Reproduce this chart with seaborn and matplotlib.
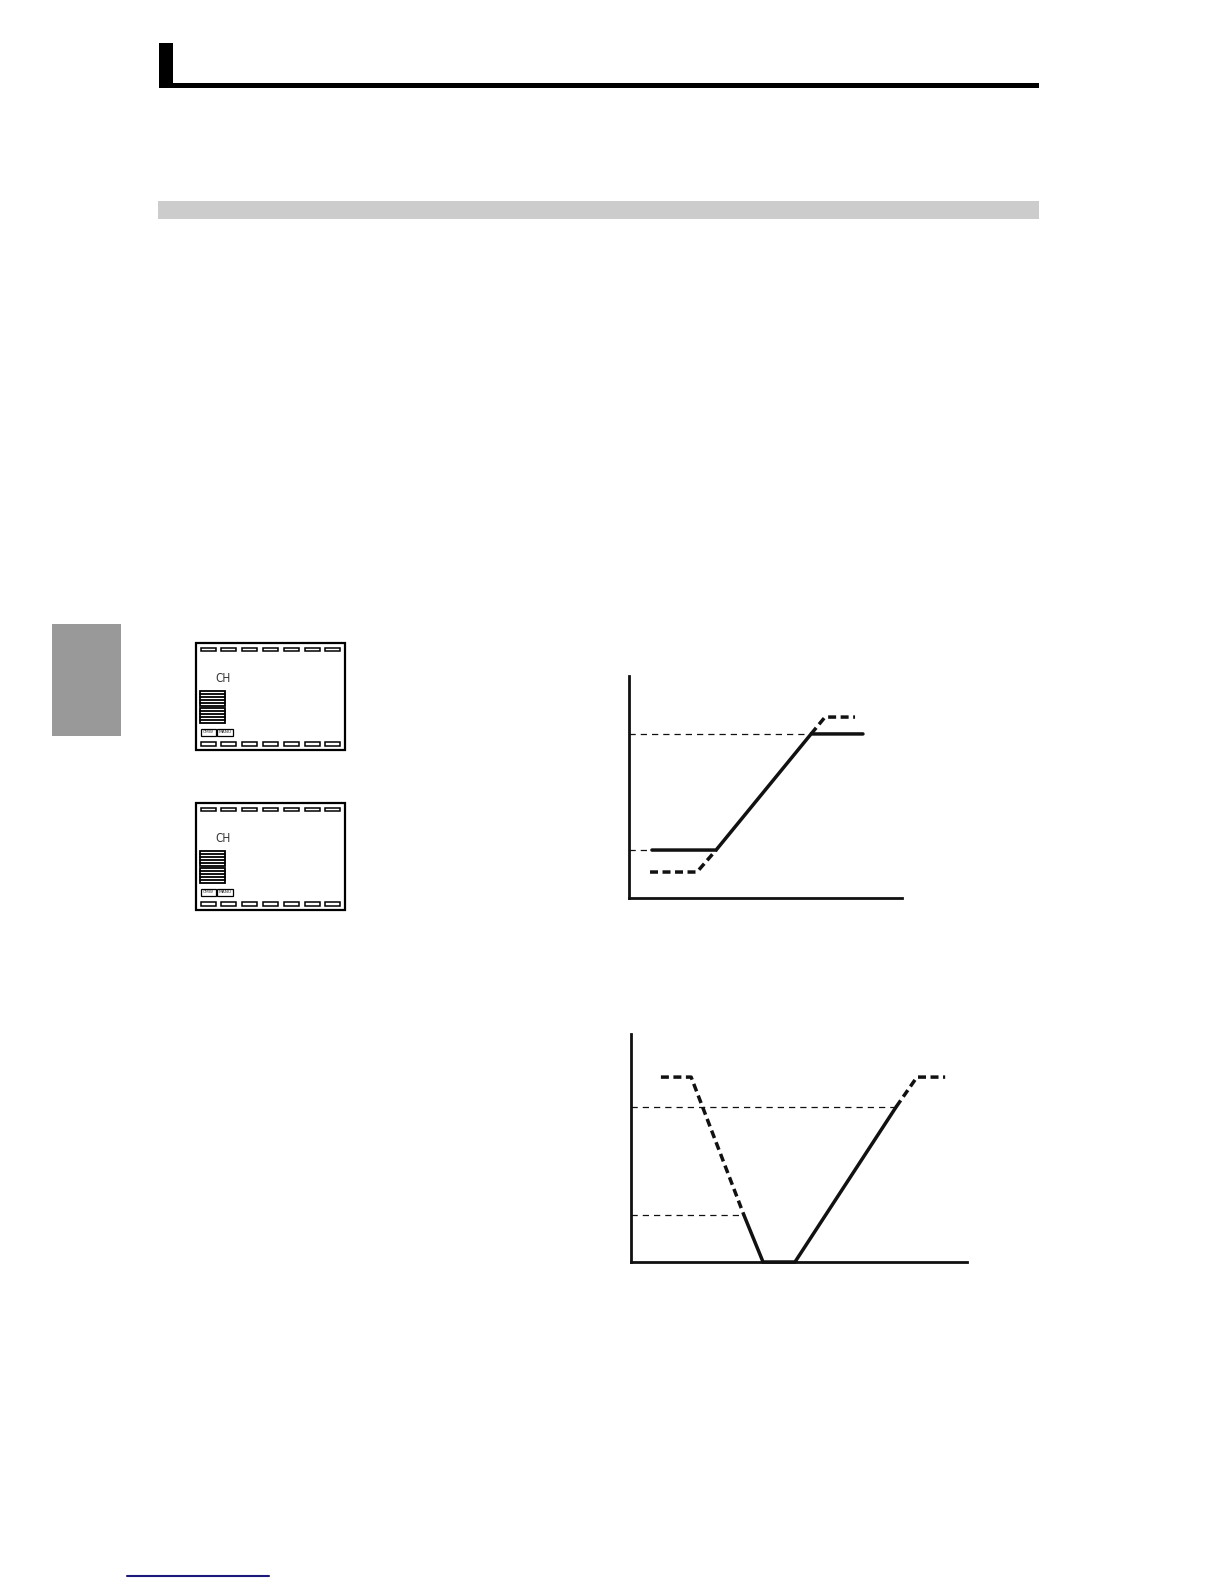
import numpy as np
import pandas as pd
import matplotlib
matplotlib.use("Agg")
import matplotlib.pyplot as plt
from matplotlib.patches import Rectangle
import seaborn as sns

sns.set_theme(style="white")
plt.rcParams['font.family'] = ['DejaVu Sans']

# ---------------- data (chart units 0..100) ----------------
# Chart 1: rising characteristic
c1_solid_x = [8.4, 31.9, 66.7, 85.7]
c1_solid_y = [21.6, 21.6, 73.9, 73.9]
c1_dash_low_x = [7.7, 24.9, 31.9]
c1_dash_low_y = [11.7, 11.7, 21.6]
c1_dash_high_x = [66.7, 71.8, 82.8]
c1_dash_high_y = [73.9, 81.5, 81.5]
c1_thresh_y = [21.6, 73.9]
c1_thresh_xend = [8.4, 66.7]

# Chart 2: V characteristic
c2_solid_x = [33.6, 39.3, 48.8, 78.9]
c2_solid_y = [20.6, 0.0, 0.0, 68.0]
c2_dash_left_x = [8.9, 17.9, 33.6]
c2_dash_left_y = [81.1, 81.1, 20.6]
c2_dash_right_x = [78.9, 85.1, 93.5]
c2_dash_right_y = [68.0, 81.1, 81.1]
c2_thresh_y = [68.0, 20.6]
c2_thresh_xend = [78.9, 33.6]

lcd_labels = ["CH", "CMW", "MANU"]

W, H = 1224, 1584
fig = plt.figure(figsize=(W / 100, H / 100), dpi=100)
fig.patch.set_facecolor("white")

# page overlay axes in pixel coordinates
page = fig.add_axes([0, 0, 1, 1], zorder=0)
page.set_xlim(0, W)
page.set_ylim(H, 0)
page.axis("off")

# header
page.add_patch(Rectangle((159, 43), 14, 45, color="black", lw=0))
page.add_patch(Rectangle((159, 83), 880, 5, color="black", lw=0))
# gray section bar
page.add_patch(Rectangle((158, 201), 881, 18, color="#cccccc", lw=0))
# left tab
page.add_patch(Rectangle((52, 624), 69, 112, color="#999999", lw=0))
# bottom blue link line
page.plot([127, 269], [1575.5, 1575.5], color="#1a1a7a", lw=1.5)


def lcd(x0, y0):
    w, h = 149, 107
    page.add_patch(Rectangle((x0, y0), w, h, fill=False, ec="black", lw=1.6))
    for i in range(7):
        sx = x0 + 4.5 + i * 20.8
        page.add_patch(Rectangle((sx, y0 + 4.5), 15, 3.5, fill=False, ec="black", lw=1.1))
        page.add_patch(Rectangle((sx, y0 + 99), 15, 3.5, fill=False, ec="black", lw=1.1))
    page.text(x0 + 19, y0 + 35, lcd_labels[0], fontsize=8.5, color="#333333",
              va="center", ha="left", fontstretch="condensed")
    for g in range(2):
        gy = y0 + 48 + g * 17
        page.add_patch(Rectangle((x0 + 4, gy), 25, 15, fill=False, ec="black", lw=1.3))
        for k in range(1, 5):
            page.plot([x0 + 4, x0 + 29], [gy + k * 3, gy + k * 3], color="black", lw=1.3)
    page.add_patch(Rectangle((x0 + 4.5, y0 + 86), 15, 6.5, fill=False, ec="black", lw=0.9))
    page.add_patch(Rectangle((x0 + 21, y0 + 86), 16, 6.5, fill=False, ec="black", lw=0.9))
    page.text(x0 + 12, y0 + 89.3, lcd_labels[1], fontsize=3.2, ha="center", va="center", color="#333333")
    page.text(x0 + 29, y0 + 89.3, lcd_labels[2], fontsize=3.2, ha="center", va="center", color="#333333")


lcd(196, 643)
lcd(196, 803)


def px_axes(x0, y0, x1, y1):
    return fig.add_axes([x0 / W, 1 - y1 / H, (x1 - x0) / W, (y1 - y0) / H], zorder=2)


def style_axes(ax):
    ax.set_xlim(0, 100)
    ax.set_ylim(0, 100)
    ax.patch.set_alpha(0)
    for s in ["top", "right"]:
        ax.spines[s].set_visible(False)
    for s in ["left", "bottom"]:
        ax.spines[s].set_color("#111111")
        ax.spines[s].set_linewidth(2.0)
    ax.set_xticks([])
    ax.set_yticks([])
    ax.set_xlabel("")
    ax.set_ylabel("")


def seg(ax, xs, ys, dashed=False):
    df = pd.DataFrame({"x": xs, "y": ys})
    sns.lineplot(data=df, x="x", y="y", ax=ax, sort=False, color="#111111",
                 lw=2.5, estimator=None, legend=False)
    line = ax.lines[-1]
    line.set_clip_on(False)
    line.set_solid_joinstyle("miter")
    if dashed:
        line.set_dashes((2.3, 1.3))


def thresholds(ax, ys, xends):
    for y, xe in zip(ys, xends):
        ax.plot([0, xe], [y, y], color="#111111", lw=0.9, dashes=(5, 4), clip_on=False)


# Chart 1
ax1 = px_axes(629, 676, 902, 898)
thresholds(ax1, c1_thresh_y, c1_thresh_xend)
seg(ax1, c1_dash_low_x, c1_dash_low_y, dashed=True)
seg(ax1, c1_dash_high_x, c1_dash_high_y, dashed=True)
seg(ax1, c1_solid_x, c1_solid_y)
style_axes(ax1)

# Chart 2
ax2 = px_axes(631, 1034, 967, 1262)
thresholds(ax2, c2_thresh_y, c2_thresh_xend)
seg(ax2, c2_dash_left_x, c2_dash_left_y, dashed=True)
seg(ax2, c2_dash_right_x, c2_dash_right_y, dashed=True)
seg(ax2, c2_solid_x, c2_solid_y)
style_axes(ax2)

fig.savefig("out.png", dpi=100, facecolor="white")
